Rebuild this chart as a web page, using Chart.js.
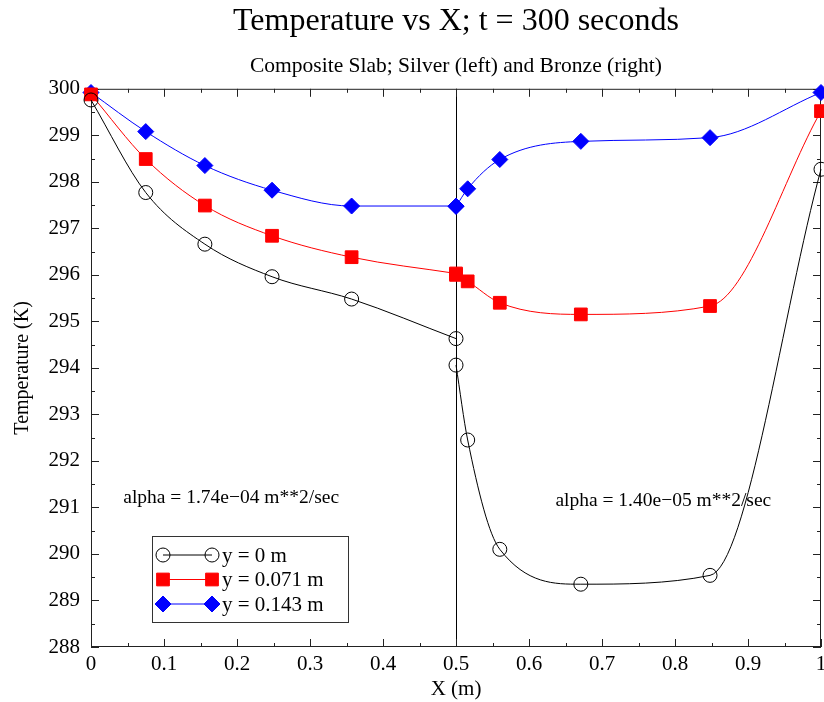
<!DOCTYPE html>
<html>
<head>
<meta charset="utf-8">
<title>Temperature vs X</title>
<script src="https://cdn.jsdelivr.net/npm/chart.js@4.4.1/dist/chart.umd.min.js"></script>
<style>
  html, body { margin: 0; padding: 0; background: #fff; }
  #wrap { width: 824px; height: 702px; }
</style>
</head>
<body>
<div id="wrap"><canvas id="slabChart" width="824" height="702"></canvas></div>
<script>
// node positions (m); the interface node at 0.5 belongs to both halves
const X_SILVER = [0, 0.075, 0.156, 0.248, 0.357, 0.5];
const X_BRONZE = [0.5, 0.516, 0.56, 0.671, 0.848, 1.0];

// temperatures (K), silver half then bronze half
const T_Y0_SILVER = [299.76, 297.77, 296.66, 295.96, 295.48, 294.63];
const T_Y0_BRONZE = [294.06, 292.45, 290.10, 289.35, 289.54, 298.27];
const T_Y071_SILVER = [299.88, 298.49, 297.49, 296.84, 296.38, 296.03];
const T_Y071_BRONZE = [296.00, 295.86, 295.40, 295.15, 295.33, 299.52];
const T_Y143_SILVER = [299.92, 299.08, 298.35, 297.82, 297.48, 297.48];
const T_Y143_BRONZE = [297.47, 297.85, 298.48, 298.87, 298.95, 299.92];

const SERIES_LABELS = ['y = 0 m', 'y = 0.071 m', 'y = 0.143 m'];
const X_TICK_LABELS = ['0', '0.1', '0.2', '0.3', '0.4', '0.5', '0.6', '0.7', '0.8', '0.9', '1'];
const ALPHA_TEXT = ['alpha = 1.74e\u221204 m**2/sec', 'alpha = 1.40e\u221205 m**2/sec'];
const INTERFACE_X = 0.5;

const SERIF = '"Liberation Serif", "DejaVu Serif", serif';

// silver and bronze halves are splined separately, a null breaks the line
function joinHalves(silver, bronze) {
  const pts = silver.map((t, i) => ({ x: X_SILVER[i], y: t }));
  pts.push({ x: INTERFACE_X, y: null });
  bronze.forEach((t, i) => pts.push({ x: X_BRONZE[i], y: t }));
  return pts;
}

function series(label, data, color, style, radius, fill) {
  return {
    label: label,
    data: data,
    borderColor: color,
    borderWidth: 1,
    pointStyle: style,
    pointRadius: radius,
    pointHoverRadius: radius,
    pointBackgroundColor: fill,
    pointBorderColor: color,
    pointBorderWidth: 1,
    cubicInterpolationMode: 'monotone',
    spanGaps: false,
    clip: false
  };
}

function drawMarker(ctx, ds, x, y) {
  const r = ds.pointRadius;
  ctx.save();
  ctx.fillStyle = ds.pointBackgroundColor;
  ctx.strokeStyle = ds.pointBorderColor;
  ctx.lineWidth = 1;
  ctx.beginPath();
  if (ds.pointStyle === 'circle') {
    ctx.arc(x, y, r, 0, Math.PI * 2);
  } else if (ds.pointStyle === 'rect') {
    const s = r * Math.SQRT1_2;
    ctx.rect(x - s, y - s, 2 * s, 2 * s);
  } else {
    ctx.moveTo(x, y - r); ctx.lineTo(x + r, y); ctx.lineTo(x, y + r); ctx.lineTo(x - r, y);
    ctx.closePath();
  }
  ctx.fill();
  ctx.stroke();
  ctx.restore();
}

// frame with inward ticks, interface line, alpha notes, legend
const slabFrame = {
  id: 'slabFrame',
  beforeDatasetsDraw(chart) {
    const { ctx, chartArea: a, scales: { x, y } } = chart;
    ctx.save();
    ctx.strokeStyle = '#000';
    ctx.lineWidth = 1;

    const xi = Math.round(x.getPixelForValue(INTERFACE_X)) + 0.5;
    ctx.beginPath();
    ctx.moveTo(xi, a.top);
    ctx.lineTo(xi, a.bottom);
    ctx.stroke();

    ctx.strokeStyle = '#222';
    ctx.strokeRect(a.left + 0.5, a.top + 0.5, a.width - 1, a.height - 1);

    ctx.beginPath();
    for (let i = 0; i <= 20; i++) {
      const px = Math.round(x.getPixelForValue(i / 20)) + 0.5;
      const len = i % 2 === 0 ? 8 : 4;
      ctx.moveTo(px, a.bottom); ctx.lineTo(px, a.bottom - len);
      ctx.moveTo(px, a.top); ctx.lineTo(px, a.top + len);
    }
    for (let i = 0; i <= 24; i++) {
      const py = Math.round(y.getPixelForValue(288 + i / 2)) + 0.5;
      const len = i % 2 === 0 ? 8 : 4;
      ctx.moveTo(a.left, py); ctx.lineTo(a.left + len, py);
      ctx.moveTo(a.right, py); ctx.lineTo(a.right - len, py);
    }
    ctx.stroke();

    ctx.fillStyle = '#000';
    ctx.font = '19.5px ' + SERIF;
    ctx.textAlign = 'center';
    ctx.textBaseline = 'middle';
    ctx.fillText(ALPHA_TEXT[0], x.getPixelForValue(0.192), y.getPixelForValue(291.2));
    ctx.fillText(ALPHA_TEXT[1], x.getPixelForValue(0.784), y.getPixelForValue(291.15));
    ctx.restore();
  },
  afterDatasetsDraw(chart) {
    const { ctx, chartArea: a } = chart;
    const bx = a.left + 61, by = a.bottom - 111, bw = 196, bh = 86;
    ctx.save();
    ctx.fillStyle = '#fff';
    ctx.fillRect(bx, by, bw, bh);
    ctx.strokeStyle = '#333';
    ctx.lineWidth = 1;
    ctx.strokeRect(bx + 0.5, by + 0.5, bw, bh);
    ctx.font = '21px ' + SERIF;
    ctx.textBaseline = 'middle';
    ctx.textAlign = 'left';
    chart.data.datasets.forEach((ds, i) => {
      const ry = by + 19 + i * 24.5;
      const x1 = bx + 11, x2 = bx + 60;
      ctx.strokeStyle = ds.borderColor;
      ctx.beginPath();
      ctx.moveTo(x1, ry); ctx.lineTo(x2, ry);
      ctx.stroke();
      drawMarker(ctx, ds, x1, ry);
      drawMarker(ctx, ds, x2, ry);
      ctx.fillStyle = '#000';
      ctx.fillText(ds.label, bx + 70, ry + 1);
    });
    ctx.restore();
  }
};

new Chart(document.getElementById('slabChart'), {
  type: 'line',
  data: {
    datasets: [
      series(SERIES_LABELS[0], joinHalves(T_Y0_SILVER, T_Y0_BRONZE), '#000000', 'circle', 7, 'rgba(0,0,0,0)'),
      series(SERIES_LABELS[1], joinHalves(T_Y071_SILVER, T_Y071_BRONZE), '#ff0000', 'rect', 9, '#ff0000'),
      series(SERIES_LABELS[2], joinHalves(T_Y143_SILVER, T_Y143_BRONZE), '#0000ff', 'rectRot', 8, '#0000ff')
    ]
  },
  options: {
    responsive: false,
    animation: false,
    events: [],
    layout: { autoPadding: false, padding: { top: 0, right: 3, bottom: 0, left: 0 } },
    scales: {
      x: {
        type: 'linear',
        min: 0,
        max: 1,
        grid: { display: false, drawTicks: false },
        border: { display: false },
        ticks: {
          stepSize: 0.1, padding: 5, maxRotation: 0, color: '#000',
          font: { family: SERIF, size: 21 },
          callback: (v, i) => X_TICK_LABELS[i]
        },
        title: { display: true, text: 'X (m)', color: '#000', padding: { top: 0, bottom: 0 }, font: { family: SERIF, size: 21 } },
        afterFit(scale) { scale.height = 55; scale.paddingLeft = 0; scale.paddingRight = 0; }
      },
      y: {
        min: 288,
        max: 300,
        grid: { display: false, drawTicks: false },
        border: { display: false },
        ticks: { stepSize: 1, padding: 11, color: '#000', font: { family: SERIF, size: 21 } },
        title: { display: true, text: 'Temperature (K)', color: '#000', padding: { top: 11, bottom: 0 }, font: { family: SERIF, size: 20 } },
        afterFit(scale) { scale.width = 91; }
      }
    },
    plugins: {
      legend: { display: false },
      tooltip: { enabled: false },
      title: {
        display: true,
        fullSize: false,
        text: 'Temperature vs X; t = 300 seconds',
        color: '#000',
        padding: { top: 2.8, bottom: 11.9 },
        font: { family: SERIF, size: 32, weight: 'normal' }
      },
      subtitle: {
        display: true,
        fullSize: false,
        text: 'Composite Slab; Silver (left) and Bronze (right)',
        color: '#000',
        padding: { top: 0, bottom: 9.9 },
        font: { family: SERIF, size: 21.5, weight: 'normal' }
      }
    }
  },
  plugins: [slabFrame]
});
</script>
</body>
</html>
